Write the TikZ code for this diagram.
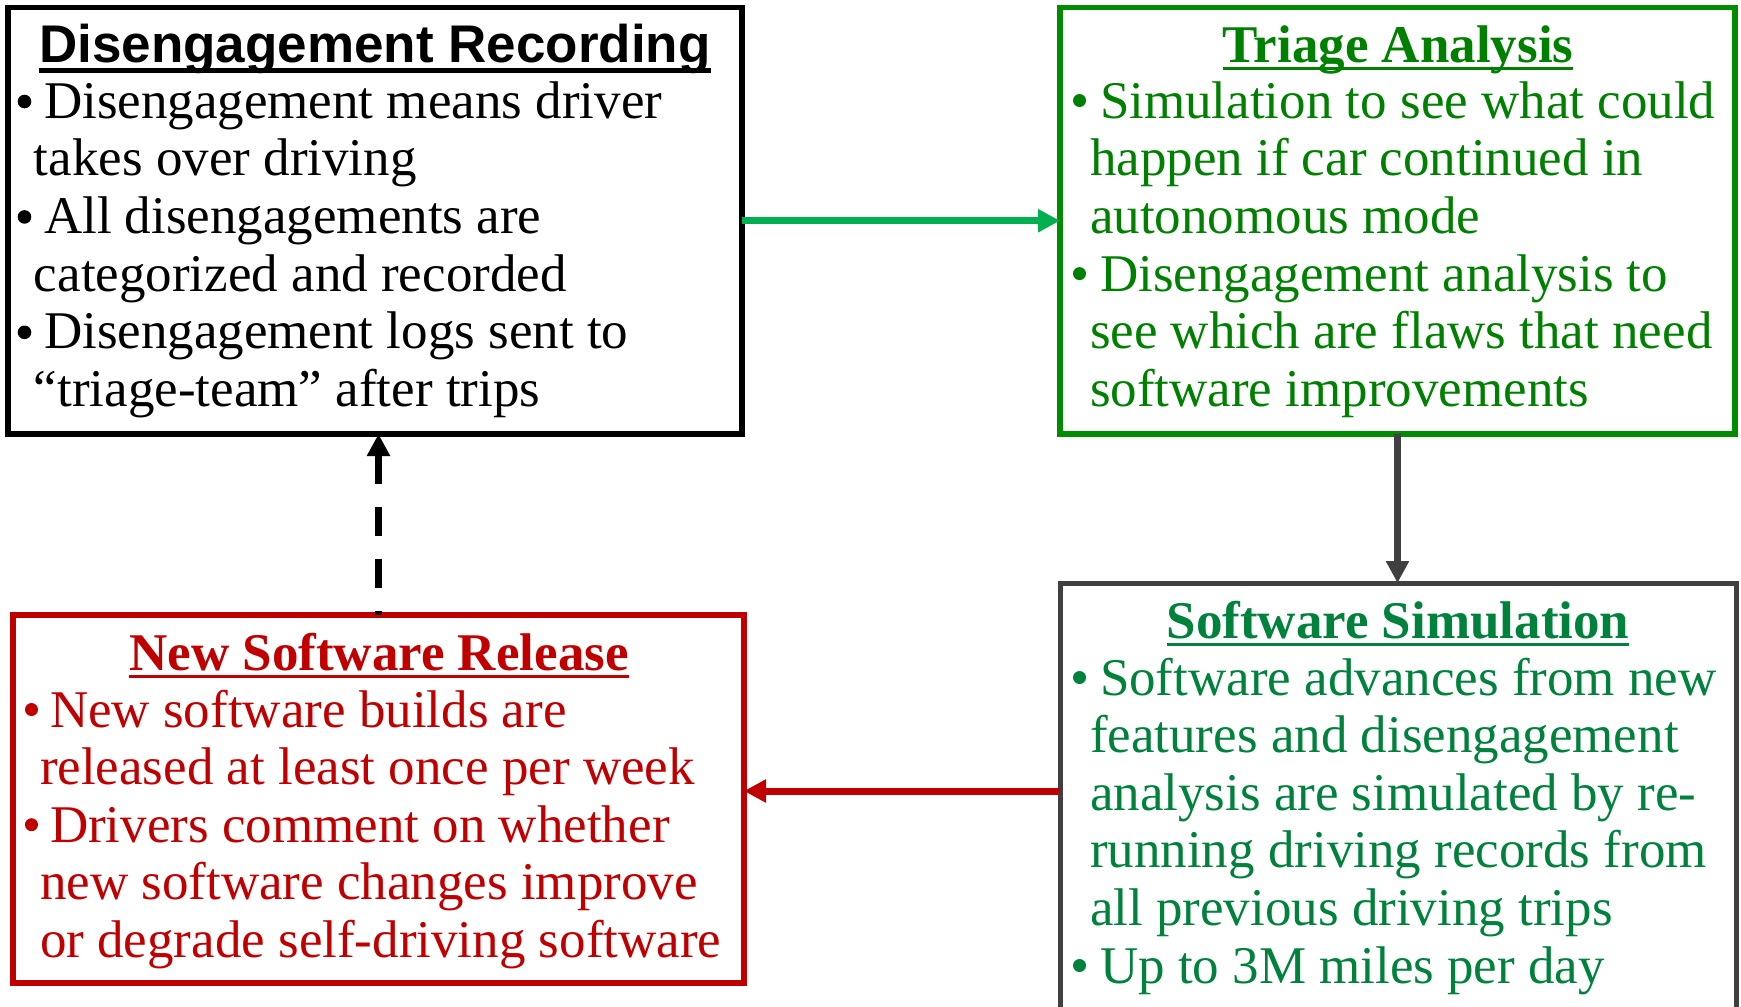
\documentclass[tikz,border=0pt]{standalone}
\usepackage{fontspec}
\setmainfont{Liberation Serif}
\newfontfamily\arialfont{Liberation Sans}
\usetikzlibrary{arrows.meta,calc}
\definecolor{cGreenArrow}{RGB}{0,176,80}
\definecolor{cGreenBox}{RGB}{0,140,0}
\definecolor{cGreenTxt}{RGB}{0,128,0}
\definecolor{cSimTxt}{RGB}{0,130,60}
\definecolor{cGray}{RGB}{64,64,64}
\definecolor{cRed}{RGB}{192,0,0}
\begin{document}
\begin{tikzpicture}[x=1pt,y=-1pt,
  frame/.style={draw, line width=5.5pt, inner sep=0pt, outer sep=0pt},
  ln/.style={anchor=base west, inner sep=0pt, outer sep=0pt, font=\fontsize{53}{58}\selectfont},
  ttl/.style={anchor=base, inner sep=0pt, outer sep=0pt, font=\fontsize{53}{58}\selectfont\bfseries},
  conn/.style={line width=7pt, -{Triangle[length=22pt,width=22pt]}},
  uline/.style={line width=3pt},
]
\useasboundingbox (0,0) rectangle (1741,1007);

% ---- frames ----
\node[frame, minimum width=734pt, minimum height=426.5pt] (rec) at (375,220.75) {};
\node[frame, draw=cGreenBox, minimum width=675pt, minimum height=426.5pt] (tri) at (1397.5,220.75) {};
\node[frame, draw=cRed, minimum width=731pt, minimum height=368pt] (rel) at (378.5,799) {};
\begin{scope}
\clip (0,0) rectangle (1741,1007);
\node[frame, draw=cGray, line width=5pt, minimum width=676pt, minimum height=426.5pt] (sim) at (1398,796.25) {};
\end{scope}

% ---- Disengagement Recording ----
\node[ttl, font=\arialfont\fontsize{53}{58}\selectfont\bfseries] (recT) at (375,62) {Disengagement Recording};
\draw[line width=4.5pt] ([yshift=-8.5pt]recT.base west) -- ([yshift=-8.5pt]recT.base east);
\node[ln] (r1) at (44,118) {Disengagement means driver};
\node[ln] (r2) at (34,175.7) {takes over driving};
\node[ln] (r3) at (44,233.4) {All disengagements are};
\node[ln] (r4) at (34,291.1) {categorized and recorded};
\node[ln] (r5) at (44,348.8) {Disengagement logs sent to};
\node[ln] (r6) at (34,406.5) {“triage-team” after trips};
\foreach \yy in {118,233.4,348.8} \fill (24.5,\yy-16.5) circle (6.8);

% ---- Triage Analysis ----
\begin{scope}[every node/.append style={text=cGreenTxt}]
\node[ttl] (triT) at (1398,62) {Triage Analysis};
\node[ln] (t1) at (1100,118) {Simulation to see what could};
\node[ln] (t2) at (1090,175.7) {happen if car continued in};
\node[ln] (t3) at (1090,233.4) {autonomous mode};
\node[ln] (t4) at (1100,291.1) {Disengagement analysis to};
\node[ln] (t5) at (1090,348.8) {see which are flaws that need};
\node[ln] (t6) at (1090,406.5) {software improvements};
\end{scope}
\draw[uline, cGreenTxt] ([yshift=-6pt]triT.base west) -- ([yshift=-6pt]triT.base east);
\foreach \yy in {118,291.1} \fill[cGreenTxt] (1079.5,\yy-17.5) circle (6.5);

% ---- New Software Release ----
\begin{scope}[every node/.append style={text=cRed}]
\node[ttl] (relT) at (379,670) {New Software Release};
\node[ln] (n1) at (50,727) {New software builds are};
\node[ln] (n2) at (40,784.6) {released at least once per week};
\node[ln] (n3) at (50,842.2) {Drivers comment on whether};
\node[ln] (n4) at (40,899.8) {new software changes improve};
\node[ln] (n5) at (40,957.4) {or degrade self-driving software};
\end{scope}
\draw[uline, cRed] ([yshift=-6.5pt]relT.base west) -- ([yshift=-6.5pt]relT.base east);
\foreach \yy in {727,842.2} \fill[cRed] (31.5,\yy-17.5) circle (6.5);

% ---- Software Simulation ----
\begin{scope}[every node/.append style={text=cSimTxt}]
\node[ttl] (simT) at (1398,638) {Software Simulation};
\node[ln] (s1) at (1100,695) {Software advances from new};
\node[ln] (s2) at (1090,752.6) {features and disengagement};
\node[ln] (s3) at (1090,810.2) {analysis are simulated by re-};
\node[ln] (s4) at (1090,867.8) {running driving records from};
\node[ln] (s5) at (1090,925.4) {all previous driving trips};
\node[ln] (s6) at (1100,983) {Up to 3M miles per day};
\end{scope}
\draw[uline, cSimTxt] ([yshift=-6pt]simT.base west) -- ([yshift=-6pt]simT.base east);
\foreach \yy in {695,983} \fill[cSimTxt] (1079.5,\yy-17.5) circle (6.5);

% ---- connectors ----
\draw[conn, cGreenArrow] (rec.east) -- (tri.west);
\draw[conn, cGray] (tri.south) -- (tri.south |- sim.north);
\draw[conn, cRed] ([yshift=5.25pt]sim.west) -- ([yshift=5.25pt]sim.west -| rel.east);
\draw[conn, black, dash pattern=on 29pt off 23pt, dash phase=25pt] (rel.north) -- (rel.north |- rec.south);
\end{tikzpicture}
\end{document}
